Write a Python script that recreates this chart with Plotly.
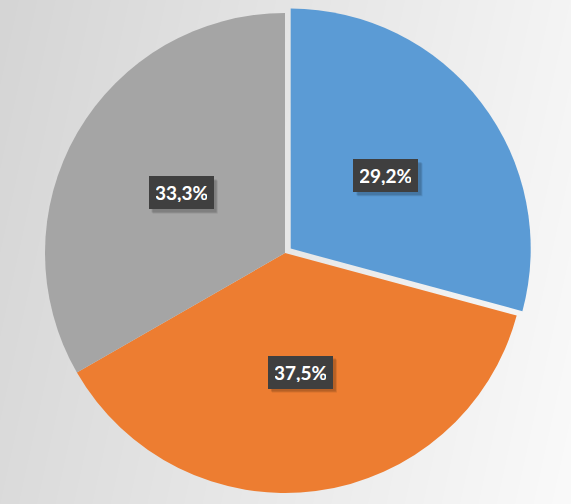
import base64, zlib, struct, math
import numpy as np
import plotly.graph_objects as go

# ---- data ----
categories = ["Категория 1", "Категория 2", "Категория 3"]
values = [29.2, 37.5, 33.3]
colors = ["#5B9BD5", "#ED7D31", "#A5A5A5"]
pulls = [0.03, 0, 0]

W, H = 571, 504

# ---- background gradient png (styling only) ----
def make_png(w, h):
    xs = np.linspace(0, 1, w)[None, :]
    ys = np.linspace(0, 1, h)[:, None]
    v = 213 + 31 * xs + 6 * ys
    v = np.clip(v, 0, 255).astype(np.uint8)
    rgb = np.repeat(v[:, :, None], 3, axis=2)
    raw = b"".join(b"\x00" + rgb[i].tobytes() for i in range(h))
    def chunk(t, d):
        c = struct.pack(">I", len(d)) + t + d
        return c + struct.pack(">I", zlib.crc32(t + d) & 0xffffffff)
    png = b"\x89PNG\r\n\x1a\n"
    png += chunk(b"IHDR", struct.pack(">IIBBBBB", w, h, 8, 2, 0, 0, 0))
    png += chunk(b"IDAT", zlib.compress(raw, 9))
    png += chunk(b"IEND", b"")
    return "data:image/png;base64," + base64.b64encode(png).decode()

bg = make_png(W, H)

# pie geometry (pixels)
cx_px, cy_px, r_px = 285, 253, 240
maxpull = max(pulls)
half = r_px * (1 + maxpull)
dom_x = [(cx_px - half) / W, (cx_px + half) / W]
dom_y = [1 - (cy_px + half) / H, 1 - (cy_px - half) / H]

fig = go.Figure(go.Pie(
    labels=categories, values=values, sort=False, direction="clockwise",
    rotation=0, pull=pulls, textinfo="none", hoverinfo="label+percent",
    marker=dict(colors=colors, line=dict(width=0)),
    domain=dict(x=dom_x, y=dom_y), showlegend=False,
))

# label boxes placed along each slice's mid angle
total = sum(values)
annotations = []
shapes = []
box_w, box_h = 65, 33
cum = 0.0
for v, p in zip(values, pulls):
    mid = 90 - (cum + v / 2) / total * 360
    cum += v
    a = math.radians(mid)
    ox = cx_px + p * r_px * math.cos(a)
    oy = cy_px - p * r_px * math.sin(a)
    lx = ox + 0.5 * r_px * math.cos(a)
    ly = oy - 0.5 * r_px * math.sin(a)
    txt = f"{v / total * 100:.1f}%".replace(".", ",")
    # soft shadow behind the box
    for off, op in ((4, 0.10), (3, 0.14)):
        shapes.append(dict(
            type="rect", xref="paper", yref="paper", layer="above",
            x0=(lx - box_w / 2 + off) / W, x1=(lx + box_w / 2 + off) / W,
            y0=1 - (ly + box_h / 2 + off) / H, y1=1 - (ly - box_h / 2 + off) / H,
            fillcolor=f"rgba(0,0,0,{op})", line=dict(width=0),
        ))
    annotations.append(dict(
        x=lx / W, y=1 - ly / H, xref="paper", yref="paper",
        xanchor="center", yanchor="middle",
        text=f"<b>{txt}</b>", showarrow=False,
        font=dict(family="Lato", size=19, color="white"),
        bgcolor="#3f3f3f", borderpad=6, borderwidth=1, bordercolor="#3f3f3f",
        width=box_w - 14, height=box_h - 14,
    ))

fig.update_layout(
    width=W, height=H, margin=dict(l=0, r=0, t=0, b=0),
    paper_bgcolor="#e8e8e8", plot_bgcolor="rgba(0,0,0,0)",
    images=[dict(source=bg, xref="paper", yref="paper", x=0, y=1,
                 sizex=1, sizey=1, sizing="stretch", layer="below",
                 xanchor="left", yanchor="top")],
    annotations=annotations, shapes=shapes,
)

fig.write_html("out.html", config={"displayModeBar": False},
               post_script="document.body.style.margin='0';document.body.style.padding='0';")
